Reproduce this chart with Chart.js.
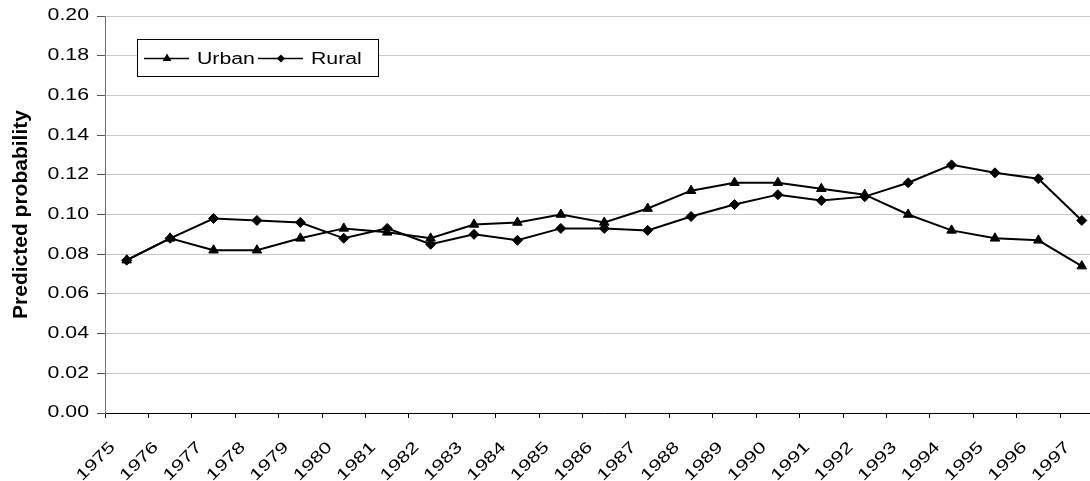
<!DOCTYPE html>
<html>
<head>
<meta charset="utf-8">
<script src="https://cdn.jsdelivr.net/npm/chart.js@4.4.1/dist/chart.umd.min.js"></script>
<style>
  html, body { margin: 0; padding: 0; background: #fff; overflow: hidden; }
  #wrap { width: 1110px; height: 481px; }
</style>
</head>
<body>
<div id="wrap"><canvas id="chart" width="1110" height="481"></canvas></div>
<script>
const years = ['1975','1976','1977','1978','1979','1980','1981','1982','1983','1984','1985','1986',
               '1987','1988','1989','1990','1991','1992','1993','1994','1995','1996','1997'];
const urban = [0.077,0.088,0.082,0.082,0.088,0.093,0.091,0.088,0.095,0.096,0.100,0.096,
               0.103,0.112,0.116,0.116,0.113,0.110,0.100,0.092,0.088,0.087,0.074];
const rural = [0.077,0.088,0.098,0.097,0.096,0.088,0.093,0.085,0.090,0.087,0.093,0.093,
               0.092,0.099,0.105,0.110,0.107,0.109,0.116,0.125,0.121,0.118,0.097];
const yTicks = [0,0.02,0.04,0.06,0.08,0.10,0.12,0.14,0.16,0.18,0.20];

// the original's regular text is drawn wide, so stretch it along its baseline
// (the bold axis title is not stretched)
const STRETCH = 1.33;
const canvas = document.getElementById('chart');
const ctx = canvas.getContext('2d');
const plainFill = ctx.fillText.bind(ctx);
ctx.fillText = (text, x, y) => {
    if (ctx.font.indexOf('bold') !== -1) return plainFill(text, x, y);
    ctx.save();
    ctx.translate(x, y);
    ctx.scale(STRETCH, 1);
    plainFill(text, 0, 0);
    ctx.restore();
};

const FONT = "'Liberation Sans', Arial, sans-serif";

function marker(c, style, x, y, r) {
    c.beginPath();
    if (style === 'triangle') {
        c.moveTo(x, y - r);
        c.lineTo(x + r * 0.87, y + r * 0.5);
        c.lineTo(x - r * 0.87, y + r * 0.5);
    } else {
        c.moveTo(x, y - r);
        c.lineTo(x + r, y);
        c.lineTo(x, y + r);
        c.lineTo(x - r, y);
    }
    c.closePath();
    c.fillStyle = '#000';
    c.fill();
}

// boxed legend with the line-and-marker swatches
const boxLegend = {
    id: 'boxLegend',
    afterDraw(chart) {
        const c = chart.ctx;
        c.save();
        c.fillStyle = '#fff';
        c.fillRect(137.5, 39.5, 241, 37);
        c.strokeStyle = '#000';
        c.lineWidth = 1;
        c.strokeRect(137.5, 39.5, 241, 37);
        c.font = '16px ' + FONT;
        c.textBaseline = 'middle';
        c.textAlign = 'left';
        let x = 144;
        const y = 58.5;
        chart.data.datasets.forEach(ds => {
            c.beginPath();
            c.moveTo(x, y);
            c.lineTo(x + 45, y);
            c.strokeStyle = '#000';
            c.lineWidth = 1.5;
            c.stroke();
            marker(c, ds.pointStyle, x + 23, y, ds.pointStyle === 'triangle' ? 5 : 4);
            c.fillStyle = '#000';
            c.fillText(ds.label, x + 53, y + 1);
            x += 53 + c.measureText(ds.label).width * STRETCH + 3;
        });
        c.restore();
    }
};

new Chart(canvas, {
    type: 'line',
    data: {
        labels: years,
        datasets: [
            {
                label: 'Urban',
                data: urban,
                borderColor: '#000',
                borderWidth: 2,
                pointStyle: 'triangle',
                pointRadius: 5.5,
                pointBackgroundColor: '#000',
                pointBorderColor: '#000',
                pointBorderWidth: 1,
                tension: 0
            },
            {
                label: 'Rural',
                data: rural,
                borderColor: '#000',
                borderWidth: 2,
                pointStyle: 'rectRot',
                pointRadius: 5,
                pointBackgroundColor: '#000',
                pointBorderColor: '#000',
                pointBorderWidth: 1,
                tension: 0
            }
        ]
    },
    options: {
        responsive: false,
        animation: false,
        devicePixelRatio: 1,
        // the plot runs a little past the right edge of the window in the original
        layout: { padding: { top: 16, right: 5, bottom: 0, left: 0 } },
        plugins: {
            legend: { display: false },
            tooltip: { enabled: false }
        },
        scales: {
            x: {
                offset: true,
                grid: {
                    display: true,
                    offset: true,
                    drawOnChartArea: false,
                    drawTicks: true,
                    tickLength: 5,
                    color: '#000'
                },
                border: { color: '#000', width: 1 },
                ticks: {
                    autoSkip: false,
                    maxRotation: 45,
                    minRotation: 45,
                    labelOffset: -14,
                    padding: 20,
                    color: '#000',
                    font: { family: FONT, size: 16 }
                },
                afterFit(scale) {
                    scale.height = 68;
                    scale.paddingLeft = 0;
                    scale.paddingRight = 0;
                }
            },
            y: {
                min: 0,
                max: 0.2,
                afterBuildTicks(scale) { scale.ticks = yTicks.map(v => ({ value: v })); },
                grid: {
                    color: '#c8c8c8',
                    tickColor: '#555',
                    tickLength: 8,
                    lineWidth: 1
                },
                border: { color: '#777', width: 1 },
                ticks: {
                    padding: 8,
                    color: '#000',
                    font: { family: FONT, size: 16 },
                    callback: v => v.toFixed(2)
                },
                title: {
                    display: true,
                    text: 'Predicted probability',
                    color: '#000',
                    font: { family: FONT, size: 21, weight: 'bold' },
                    padding: { top: 9, bottom: 0 }
                },
                afterFit(scale) {
                    scale.width = 105;
                    scale.paddingTop = 0;
                    scale.paddingBottom = 0;
                }
            }
        }
    },
    plugins: [boxLegend]
});
</script>
</body>
</html>
